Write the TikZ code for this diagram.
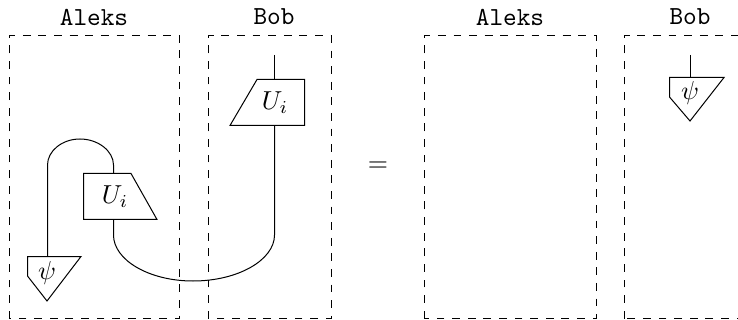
\documentclass[tikz,border=0pt]{standalone}
\tikzset{
  wire/.style={line width=0.5pt},
  party/.style={line width=0.45pt, draw, dash pattern=on 3.9pt off 3.9pt},
  gate/.style={wire, draw, fill=white},
  partylabel/.style={font=\ttfamily, scale=1.3},
  gatelabel/.style={scale=1.3}
}
\begin{document}
\begin{tikzpicture}[x=0.5pt,y=-0.5pt]
    \useasboundingbox (0,0) rectangle (738,320);
    % Cajas de la izquierda
    \draw[party] (9.5,318.5) rectangle (179.5,35.5);
    \draw[party] (208,318.5) rectangle (331,35.5);
    \node[partylabel] (aleksL) at (94,17) {Aleks};
    \node[partylabel] (bobL) at (274,17) {Bob};
    % Cajas de la derecha
    \draw[party] (424.5,318.5) rectangle (596,35.5);
    \draw[party] (624,318.5) rectangle (760,35.5);
    \node[partylabel] (aleksR) at (510,17) {Aleks};
    \node[partylabel] (bobR) at (690,17) {Bob};
    \node[gatelabel] (eq) at (378,167) {$=$};
    % Puertas
    \draw[gate] (83.5,173.5) -- (131,173.5) -- (157,219.5) -- (83.5,219.5) -- cycle;
    \node[gatelabel] (gateA) at (115,197) {$U_i$};
    \draw[gate] (257,79.5) -- (304.5,79.5) -- (304.5,125.5) -- (230,125.5) -- cycle;
    \node[gatelabel] (gateB) at (275,103) {$U_i$};
    % Estados
    \draw[gate] (27.5,256.5) -- (81,256.5) -- (47,301) -- (27.5,276) -- cycle;
    \node[gatelabel] (stateL) at (47,273) {$\psi$};
    \draw[gate] (669.5,77.5) -- (724,77.5) -- (690,121) -- (669.5,97) -- cycle;
    \node[gatelabel] (stateR) at (690,93) {$\psi$};
    % Puntos de los cables
    \coordinate (gateAtop) at (113.5,173.5);
    \coordinate (gateAbot) at (113.5,219.5);
    \coordinate (gateBtop) at (274.5,79.5);
    \coordinate (gateBbot) at (274.5,125.5);
    \coordinate (stateLtop) at (47.5,256.5);
    \coordinate (stateRtop) at (690,77.5);
    \coordinate (endB) at (274.5,55);
    \coordinate (endR) at (690,55);
    % Cables
    \draw[wire] (endB) -- (gateBtop);
    \draw[wire] (endR) -- (stateRtop);
    \draw[wire] (stateLtop) -- (47.5,165) .. controls (47.5,151) and (62,139) .. (80,139)
        .. controls (98,139) and (113.5,151) .. (113.5,165) -- (gateAtop);
    \draw[wire] (gateAbot) -- (113.5,235) .. controls (113.5,260) and (149,281) .. (193,281)
        .. controls (238,281) and (274.5,260) .. (274.5,235) -- (gateBbot);
\end{tikzpicture}
\end{document}
